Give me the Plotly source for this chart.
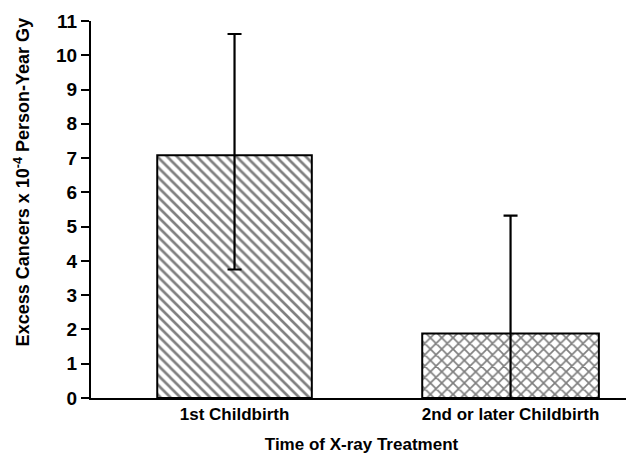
import plotly.graph_objects as go

categories = ["1st Childbirth", "2nd or later Childbirth"]
values = [7.08, 1.88]
err_upper = [10.62, 5.32]
err_lower = [3.75, 0.0]
bar_widths = [0.56, 0.64]
patterns = ["\\", "x"]
y_ticks = list(range(0, 12))

x_pos = list(range(len(categories)))
fig = go.Figure()
fig.add_trace(go.Bar(
    x=x_pos, y=values, width=bar_widths,
    marker=dict(color="white", line=dict(color="black", width=2),
                pattern=dict(shape=patterns, fgcolor="black", bgcolor="white",
                             size=[7, 8], solidity=0.38, fillmode="overlay")),
    error_y=dict(type="data", symmetric=False,
                 array=[u - v for u, v in zip(err_upper, values)],
                 arrayminus=[v - l for v, l in zip(values, err_lower)],
                 color="black", thickness=2.2, width=7),
    showlegend=False,
))

font = "Arial"
fig.update_layout(
    width=626, height=446,
    margin=dict(l=83, r=2, t=13, b=56, autoexpand=False),
    plot_bgcolor="white", paper_bgcolor="white",
    font=dict(family=font, color="black"),
    xaxis=dict(range=[-0.52, 1.44], tickvals=x_pos,
               ticktext=["<b>%s</b>" % c for c in categories],
               showline=True, linecolor="black", linewidth=2, ticks="",
               showgrid=False, zeroline=False,
               tickfont=dict(size=17, family=font, weight=700),
               title=dict(text="<b>Time of X-ray Treatment</b>",
                          font=dict(size=17, family=font, weight=700),
                          standoff=18)),
    yaxis=dict(range=[0, 11], tickvals=y_ticks,
               ticktext=["<b>%d</b>" % t for t in y_ticks],
               showline=True, linecolor="black",
               linewidth=2, ticks="outside", ticklen=8, tickwidth=2,
               tickcolor="black", showgrid=False, zeroline=False,
               tickfont=dict(size=19, family=font, weight=700)),
    annotations=[dict(text="<b>Excess Cancers x 10<sup>-4</sup> Person-Year Gy</b>",
                      textangle=-90, xref="paper", yref="paper",
                      x=-0.1275, y=0.572, showarrow=False, xanchor="center", yanchor="middle",
                      font=dict(size=18, family=font, weight=700))],
)
fig.write_html("out.html")
